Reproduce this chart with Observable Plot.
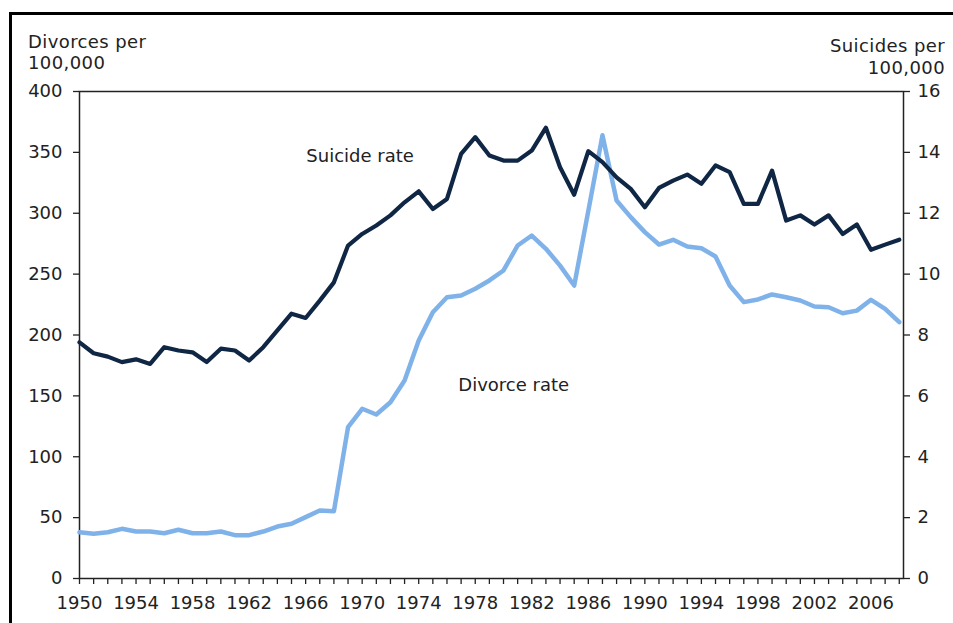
<!DOCTYPE html>
<html><head><meta charset="utf-8">
<script src="https://cdn.jsdelivr.net/npm/d3@7"></script>
<script src="https://cdn.jsdelivr.net/npm/@observablehq/plot@0.6"></script>
<style>
body{margin:0;background:#fff;}
#wrap{position:relative;width:953px;height:623px;overflow:hidden;font-family:"DejaVu Sans",Verdana,sans-serif;background:#fff;}
#border{position:absolute;left:9px;top:12px;width:990px;height:700px;border-top:3px solid #000;border-left:3px solid #000;}
#chart{position:absolute;left:0;top:0;}
.t{position:absolute;font-size:18px;line-height:21px;color:#222;white-space:nowrap;letter-spacing:0.4px;}
</style></head><body>
<div id="wrap">
<div id="border"></div>
<div id="chart"></div>
<div class="t" style="left:28px;top:31px">Divorces per<br>100,000</div>
<div class="t" style="right:8px;top:35px;text-align:right;line-height:21.5px">Suicides per<br>100,000</div>
</div>
<script>
const years = d3.range(1950, 2009);
const divorce = [38,36.7,38,40.8,38.6,38.6,37.2,40,37.2,37.2,
  38.6,35.6,35.6,38.6,42.7,44.9,50.4,55.8,55.3,124.3,
  139.4,134.7,144.8,162.6,195.5,218.7,231,232.4,238,244.8,
  253,273.5,281.7,270.8,257,240.6,302,364,310.5,296.8,
  284.5,274.3,278.2,272.7,271.3,264.5,240.6,227,229.2,233.3,
  231,228.3,223.4,222.8,217.9,220,228.9,221.5,210.5];
const suicide = [7.76,7.40,7.29,7.11,7.20,7.05,7.60,7.49,7.43,7.11,
  7.55,7.49,7.16,7.60,8.15,8.70,8.56,9.13,9.73,10.94,
  11.32,11.60,11.93,12.36,12.72,12.14,12.47,13.95,14.50,13.90,
  13.73,13.73,14.06,14.81,13.51,12.61,14.04,13.68,13.18,12.80,
  12.20,12.83,13.07,13.27,12.97,13.57,13.35,12.31,12.31,13.40,
  11.76,11.93,11.63,11.93,11.32,11.63,10.80,10.97,11.13];
const divorceTicks = [0,50,100,150,200,250,300,350,400];
const suicideTicks = [0,2,4,6,8,10,12,14,16];
const seriesLabels = ["Suicide rate", "Divorce rate"];
const labelYears = [1966.05, 1976.8];
const labelValues = [346.6, 158.5];

const k = 400 / 16;
const data = years.map((y, i) => ({year: y, divorce: divorce[i], suicide: suicide[i] * k}));
const annotations = seriesLabels.map((t, i) => ({text: t, year: labelYears[i], value: labelValues[i]}));

const plot = Plot.plot({
  width: 953, height: 623,
  marginLeft: 79, marginRight: 50, marginTop: 91, marginBottom: 45,
  style: {fontFamily: "DejaVu Sans, Verdana, sans-serif", fontSize: "18px", color: "#222", background: "transparent"},
  x: {domain: [1950, 2008.3]},
  y: {domain: [0, 400]},
  marks: [
    Plot.axisX({ticks: years, tickFormat: d => (d - 1950) % 4 === 0 ? String(d) : "", tickSize: 6, tickPadding: 12, label: null, strokeWidth: 1.3}),
    Plot.axisY({ticks: divorceTicks, tickSize: 6, tickPadding: 11, label: null, strokeWidth: 1.3}),
    Plot.axisY({ticks: suicideTicks.map(v => v * k), anchor: "right", tickFormat: d => String(d / k), tickSize: 6, tickPadding: 8, label: null, strokeWidth: 1.3}),
    Plot.frame({stroke: "#222", strokeWidth: 1.5}),
    Plot.line(data, {x: "year", y: "divorce", stroke: "#80b2ea", strokeWidth: 4.5}),
    Plot.line(data, {x: "year", y: "suicide", stroke: "#0f2644", strokeWidth: 4.2}),
    Plot.text(annotations, {x: "year", y: "value", text: "text", textAnchor: "start", fontSize: 18, fill: "#222", style: "letter-spacing:0.4px"})
  ]
});
document.getElementById("chart").appendChild(plot);
</script>
</body></html>
